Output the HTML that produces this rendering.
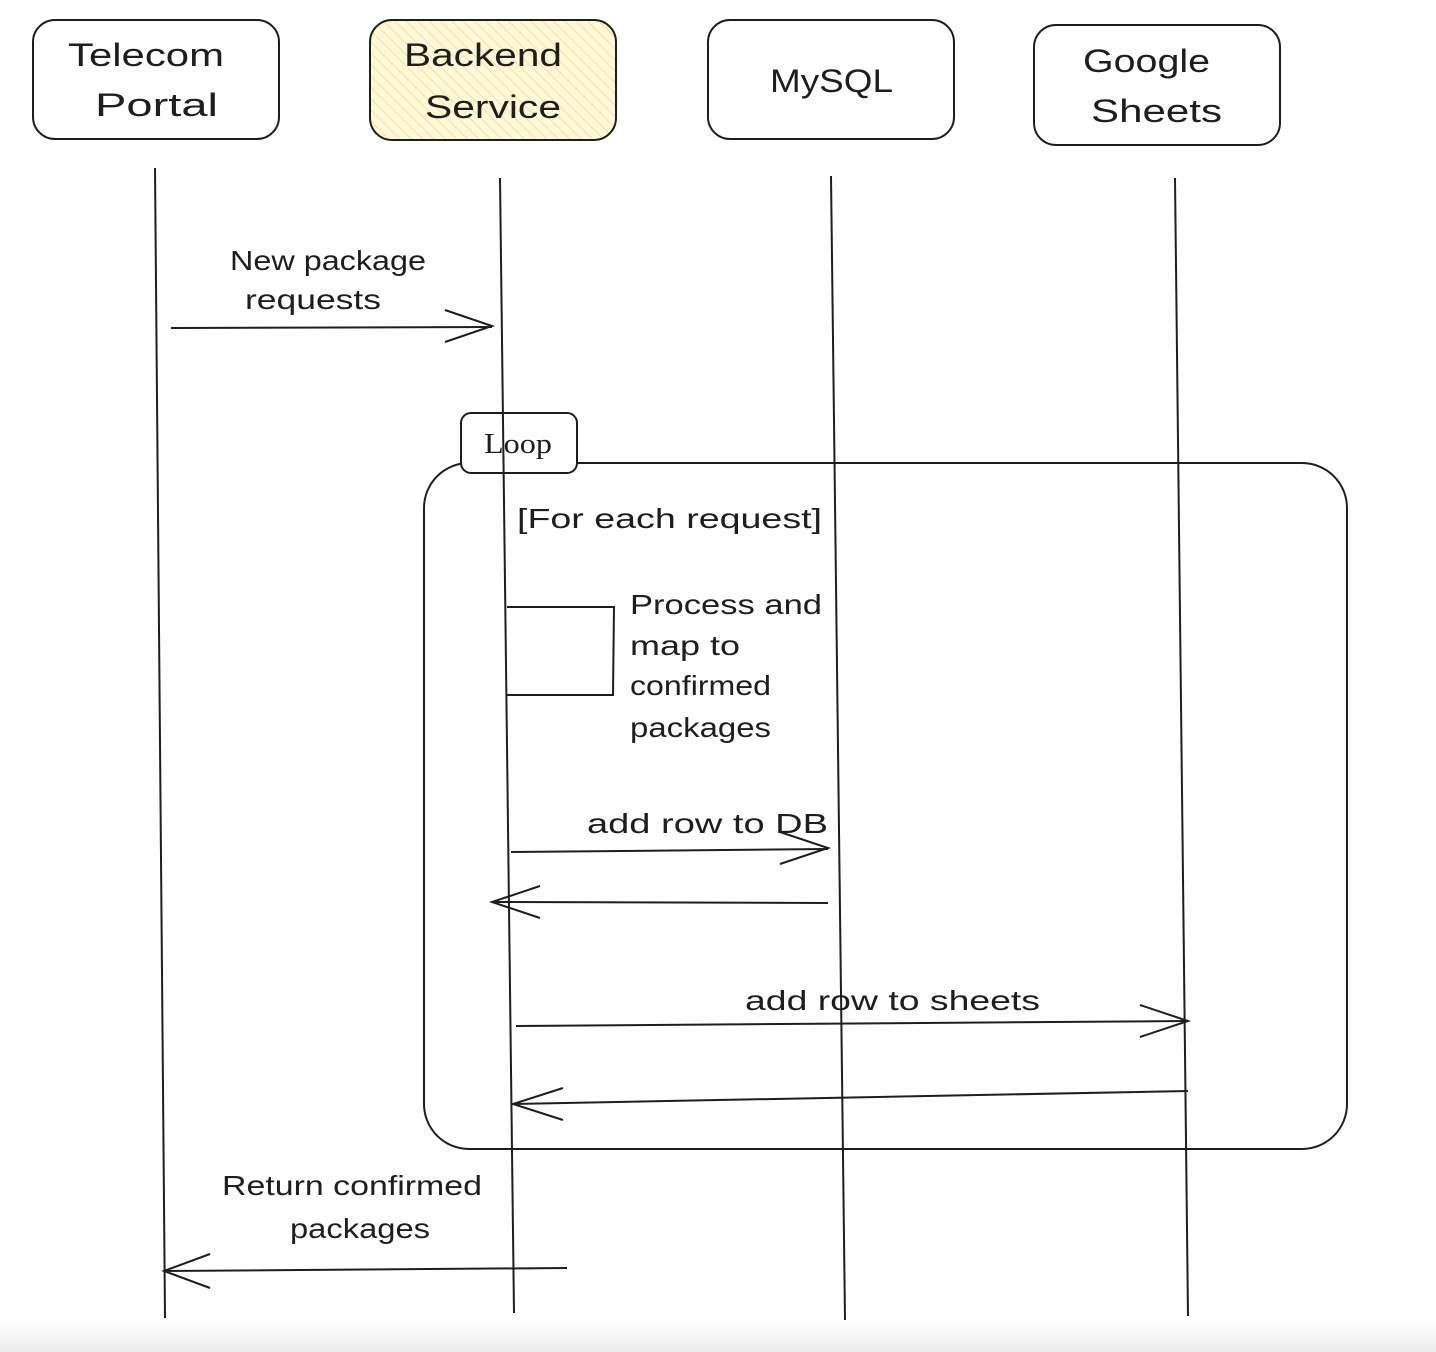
<!DOCTYPE html>
<html><head><meta charset="utf-8"><style>
html,body{margin:0;padding:0;background:#fff}
svg{display:block}
text{font-family:"Liberation Sans",sans-serif;fill:#1e1e1e}
</style></head><body>
<svg width="1436" height="1352" viewBox="0 0 1436 1352" xmlns="http://www.w3.org/2000/svg">
<defs>
<pattern id="h" width="8" height="8" patternUnits="userSpaceOnUse" patternTransform="rotate(-45)">
<rect width="8" height="8" fill="#fdf8d8"/><line x1="0" y1="0" x2="0" y2="8" stroke="#f2e49a" stroke-width="2"/>
</pattern>
<linearGradient id="g" x1="0" y1="0" x2="0" y2="1"><stop offset="0" stop-color="#fff"/><stop offset="1" stop-color="#ececec"/></linearGradient>
</defs>
<rect x="0" y="1320" width="1436" height="32" fill="url(#g)"/>
<g fill="none" stroke="#1e1e1e" stroke-width="2">
<rect x="33" y="20" width="246" height="119" rx="22"/>
<rect x="370" y="20" width="246" height="120" rx="22" fill="url(#h)"/>
<rect x="708" y="20" width="246" height="119" rx="22"/>
<rect x="1034" y="25" width="246" height="120" rx="22"/>
<rect x="424" y="463" width="923" height="686" rx="45"/>
<rect x="461" y="413" width="116" height="60" rx="10" fill="#fff"/>
<line x1="155" y1="168" x2="165" y2="1318"/>
<line x1="500" y1="178" x2="514" y2="1313"/>
<line x1="831" y1="176" x2="845" y2="1320"/>
<line x1="1175" y1="178" x2="1188" y2="1316"/>
<line x1="171" y1="328" x2="492" y2="327"/>
<polyline points="445,310 492,326 445,342"/>
<polyline points="507,607 614,607 613,695 507,695"/>
<line x1="511" y1="852" x2="828" y2="849"/>
<polyline points="780,832 828,848 780,864"/>
<line x1="828" y1="903" x2="492" y2="902"/>
<polyline points="540,886 492,902 540,918"/>
<line x1="516" y1="1026" x2="1188" y2="1021"/>
<polyline points="1140,1005 1188,1021 1140,1037"/>
<line x1="1188" y1="1091" x2="513" y2="1104"/>
<polyline points="563,1088 513,1104 563,1120"/>
<line x1="567" y1="1268" x2="164" y2="1271"/>
<polyline points="210,1254 164,1271 210,1288"/>
</g>
<g font-size="32">
<text x="68" y="66" textLength="156" lengthAdjust="spacingAndGlyphs">Telecom</text>
<text x="95" y="116" textLength="123" lengthAdjust="spacingAndGlyphs">Portal</text>
<text x="404" y="66" textLength="158" lengthAdjust="spacingAndGlyphs">Backend</text>
<text x="425" y="118" textLength="136" lengthAdjust="spacingAndGlyphs">Service</text>
<text x="770" y="92" textLength="123" lengthAdjust="spacingAndGlyphs">MySQL</text>
<text x="1083" y="72" textLength="127" lengthAdjust="spacingAndGlyphs">Google</text>
<text x="1091" y="122" textLength="131" lengthAdjust="spacingAndGlyphs">Sheets</text>
</g>
<g font-size="28">
<text x="230" y="270" textLength="196" lengthAdjust="spacingAndGlyphs">New package</text>
<text x="245" y="309" textLength="136" lengthAdjust="spacingAndGlyphs">requests</text>
<text x="484" y="453" textLength="68" lengthAdjust="spacingAndGlyphs" style="font-family:'Liberation Serif',serif">Loop</text>
<text x="517" y="528" textLength="305" lengthAdjust="spacingAndGlyphs">[For each request]</text>
<text x="630" y="614" textLength="192" lengthAdjust="spacingAndGlyphs">Process and</text>
<text x="630" y="655" textLength="110" lengthAdjust="spacingAndGlyphs">map to</text>
<text x="630" y="695" textLength="141" lengthAdjust="spacingAndGlyphs">confirmed</text>
<text x="630" y="737" textLength="141" lengthAdjust="spacingAndGlyphs">packages</text>
<text x="587" y="833" textLength="241" lengthAdjust="spacingAndGlyphs">add row to DB</text>
<text x="745" y="1010" textLength="295" lengthAdjust="spacingAndGlyphs">add row to sheets</text>
<text x="222" y="1195" textLength="260" lengthAdjust="spacingAndGlyphs">Return confirmed</text>
<text x="290" y="1238" textLength="140" lengthAdjust="spacingAndGlyphs">packages</text>
</g>
</svg>
</body></html>
